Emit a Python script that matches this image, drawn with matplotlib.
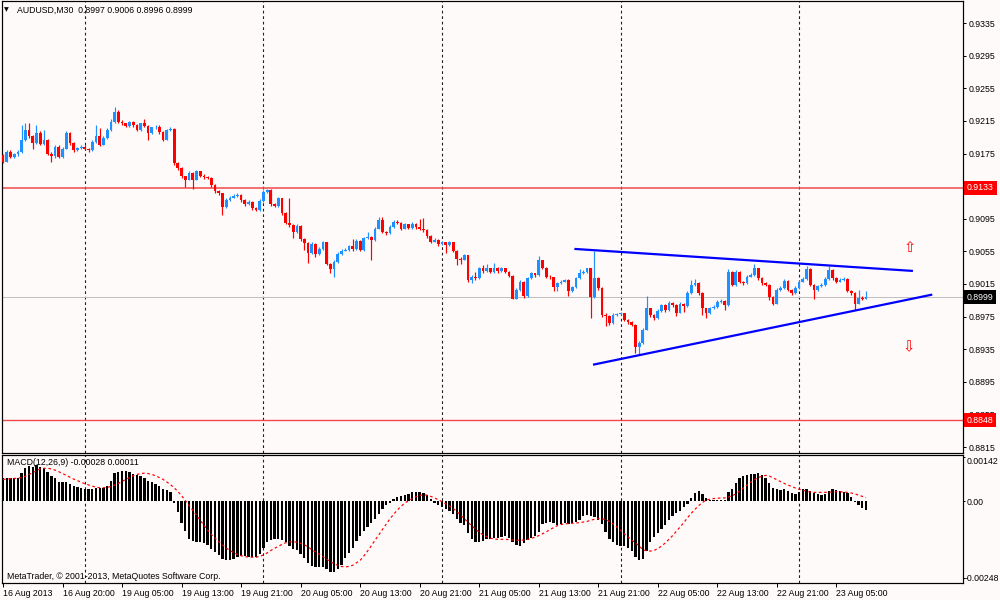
import matplotlib
matplotlib.use('Agg')
import matplotlib.pyplot as plt
import matplotlib.transforms as mtransforms
import numpy as np

PIP = 1e-4
# ---- price data, AUDUSD M30, bar 0 = 16 Aug 2013 12:00 (values in pips) ----
opens = [
9173, 9165, 9177, 9171, 9174, 9177, 9191, 9204, 9196, 9188,
9200, 9187, 9191, 9175, 9172, 9183, 9171, 9181, 9200, 9188,
9179, 9182, 9183, 9181, 9179, 9189, 9196, 9186, 9194, 9204,
9214, 9226, 9214, 9212, 9209, 9214, 9210, 9204, 9212, 9209,
9200, 9207, 9208, 9201, 9192, 9204, 9205, 9163, 9157, 9147,
9143, 9151, 9143, 9153, 9148, 9146, 9145, 9136, 9129, 9126,
9110, 9118, 9121, 9123, 9124, 9118, 9113, 9116, 9108, 9106,
9117, 9128, 9130, 9113, 9111, 9120, 9102, 9090, 9087, 9079,
9086, 9070, 9065, 9053, 9064, 9052, 9058, 9066, 9040, 9033,
9042, 9052, 9056, 9057, 9061, 9058, 9068, 9057, 9071, 9073,
9069, 9083, 9094, 9079, 9077, 9085, 9091, 9090, 9083, 9088,
9084, 9089, 9085, 9083, 9081, 9074, 9067, 9069, 9064, 9066,
9063, 9066, 9056, 9046, 9045, 9050, 9020, 9024, 9022, 9034,
9031, 9034, 9030, 9035, 9031, 9034, 9030, 9025, 8997, 9008,
9018, 9000, 9022, 9028, 9026, 9044, 9035, 9024, 9023, 9011,
9016, 9018, 9020, 9006, 9011, 9022, 9028, 9030, 9034, 8999,
9022, 9010, 8977, 8976, 8967, 8977, 8978, 8979, 8971, 8968,
8965, 8938, 8943, 8959, 8985, 8977, 8973, 8982, 8989, 8983,
8992, 8989, 8980, 8991, 8988, 9004, 9014, 9016, 9004, 8985,
8979, 8985, 8987, 8993, 8994, 8989, 9030, 9014, 9030, 9018,
9016, 9024, 9026, 9034, 9022, 9016, 9014, 8999, 8991, 9008,
9010, 9019, 9008, 9004, 9010, 9018, 9021, 9033, 9014, 9008,
9012, 9014, 9021, 9032, 9022, 9018, 9020, 9021, 9007, 9004,
8991, 8998, 8997]
closes = [
9165, 9177, 9171, 9174, 9177, 9191, 9204, 9196, 9188, 9200,
9187, 9191, 9175, 9172, 9183, 9171, 9181, 9200, 9188, 9179,
9182, 9183, 9181, 9179, 9189, 9196, 9186, 9194, 9204, 9214,
9226, 9214, 9212, 9209, 9214, 9210, 9204, 9212, 9209, 9200,
9207, 9208, 9201, 9192, 9204, 9205, 9163, 9157, 9147, 9143,
9151, 9143, 9153, 9148, 9146, 9145, 9136, 9129, 9126, 9110,
9118, 9121, 9123, 9124, 9118, 9113, 9116, 9108, 9106, 9117,
9128, 9130, 9113, 9111, 9120, 9102, 9090, 9087, 9079, 9086,
9070, 9065, 9053, 9064, 9052, 9058, 9066, 9040, 9033, 9042,
9052, 9056, 9057, 9061, 9058, 9068, 9057, 9071, 9073, 9069,
9083, 9094, 9079, 9077, 9085, 9091, 9090, 9083, 9088, 9084,
9089, 9085, 9083, 9081, 9074, 9067, 9069, 9064, 9066, 9063,
9066, 9056, 9046, 9045, 9050, 9020, 9024, 9022, 9034, 9031,
9034, 9030, 9035, 9031, 9034, 9030, 9025, 8997, 9008, 9018,
9000, 9022, 9028, 9026, 9044, 9035, 9024, 9023, 9011, 9016,
9018, 9020, 9006, 9011, 9022, 9028, 9030, 9034, 8999, 9022,
9010, 8977, 8976, 8967, 8977, 8978, 8979, 8971, 8968, 8965,
8938, 8943, 8959, 8985, 8977, 8973, 8982, 8989, 8983, 8992,
8989, 8980, 8991, 8988, 9004, 9014, 9016, 9004, 8985, 8979,
8985, 8987, 8993, 8994, 8989, 9030, 9014, 9030, 9018, 9016,
9024, 9026, 9034, 9022, 9016, 9014, 8999, 8991, 9008, 9010,
9019, 9008, 9004, 9010, 9018, 9021, 9033, 9014, 9008, 9012,
9014, 9021, 9032, 9022, 9018, 9020, 9021, 9007, 9004, 8991,
8998, 8997, 8999]
highs = [
9175, 9179, 9179, 9176, 9179, 9210, 9212, 9212, 9198, 9210,
9202, 9204, 9193, 9177, 9185, 9185, 9183, 9202, 9201, 9189,
9183, 9185, 9186, 9182, 9191, 9210, 9206, 9196, 9206, 9217,
9232, 9228, 9216, 9213, 9215, 9215, 9211, 9213, 9217, 9210,
9208, 9210, 9210, 9202, 9205, 9207, 9206, 9164, 9158, 9148,
9154, 9152, 9155, 9154, 9150, 9147, 9146, 9137, 9130, 9127,
9120, 9123, 9125, 9126, 9125, 9119, 9118, 9117, 9109, 9119,
9130, 9132, 9131, 9114, 9122, 9121, 9103, 9120, 9088, 9088,
9087, 9071, 9066, 9066, 9065, 9060, 9068, 9067, 9041, 9044,
9054, 9058, 9059, 9063, 9070, 9070, 9069, 9073, 9079, 9074,
9085, 9097, 9097, 9080, 9087, 9093, 9093, 9091, 9090, 9089,
9091, 9090, 9095, 9096, 9082, 9075, 9071, 9070, 9068, 9067,
9068, 9067, 9057, 9048, 9052, 9051, 9026, 9030, 9036, 9038,
9040, 9035, 9041, 9036, 9036, 9035, 9031, 9026, 9010, 9020,
9019, 9024, 9030, 9029, 9049, 9045, 9036, 9026, 9024, 9018,
9020, 9021, 9021, 9013, 9024, 9033, 9032, 9035, 9035, 9055,
9023, 9011, 8979, 8977, 8979, 8980, 8981, 8980, 8972, 8969,
8966, 8945, 8961, 9000, 8986, 8978, 8984, 8991, 8990, 8994,
8993, 8990, 8993, 8992, 9006, 9020, 9021, 9017, 9005, 8986,
8987, 8989, 8995, 8996, 8995, 9033, 9031, 9032, 9031, 9019,
9026, 9028, 9040, 9035, 9023, 9017, 9015, 9000, 9010, 9012,
9021, 9020, 9009, 9012, 9020, 9023, 9037, 9034, 9015, 9014,
9016, 9023, 9037, 9033, 9023, 9022, 9023, 9022, 9008, 9005,
9008, 9000, 9006]
lows = [
9163, 9164, 9169, 9170, 9172, 9176, 9190, 9194, 9181, 9187,
9185, 9186, 9173, 9165, 9170, 9169, 9170, 9180, 9186, 9177,
9178, 9181, 9179, 9177, 9178, 9188, 9184, 9185, 9193, 9203,
9213, 9212, 9210, 9207, 9208, 9208, 9202, 9203, 9207, 9191,
9199, 9205, 9199, 9190, 9191, 9203, 9161, 9155, 9145, 9134,
9142, 9132, 9142, 9146, 9144, 9144, 9134, 9127, 9124, 9100,
9108, 9117, 9120, 9122, 9116, 9111, 9112, 9106, 9104, 9105,
9116, 9127, 9111, 9109, 9110, 9100, 9088, 9085, 9071, 9078,
9068, 9057, 9041, 9052, 9048, 9051, 9057, 9038, 9028, 9024,
9041, 9051, 9055, 9056, 9056, 9057, 9055, 9056, 9070, 9045,
9068, 9082, 9077, 9075, 9076, 9084, 9088, 9081, 9082, 9082,
9083, 9083, 9081, 9079, 9072, 9065, 9066, 9062, 9063, 9053,
9062, 9054, 9038, 9040, 9044, 9018, 9016, 9020, 9021, 9029,
9030, 9028, 9029, 9029, 9030, 9028, 9023, 8996, 8996, 9007,
8998, 8999, 9021, 9024, 9025, 9033, 9022, 9021, 9006, 9006,
9015, 9017, 9000, 9005, 9010, 9021, 9027, 9029, 8973, 8998,
9008, 8975, 8963, 8965, 8966, 8976, 8977, 8969, 8966, 8963,
8930, 8928, 8942, 8958, 8975, 8971, 8972, 8981, 8981, 8982,
8987, 8976, 8979, 8981, 8987, 9003, 9013, 9002, 8977, 8973,
8978, 8984, 8986, 8992, 8983, 8988, 9012, 9013, 9016, 9014,
9015, 9023, 9025, 9020, 9014, 9012, 8995, 8989, 8990, 9007,
9009, 9006, 9002, 9003, 9009, 9017, 9020, 9012, 8997, 9007,
9011, 9013, 9020, 9020, 9016, 9017, 9019, 9005, 9002, 8983,
8990, 8995, 8996]

# ---- MACD(12,26,9), values in 1e-5 ----
macd_e5 = [
73, 76, 76, 76, 76, 90, 106, 113, 110, 116,
110, 106, 93, 80, 76, 63, 60, 60, 56, 50,
46, 43, 40, 38, 40, 43, 43, 43, 48, 66,
90, 93, 98, 96, 93, 88, 83, 80, 76, 66,
60, 56, 48, 40, 36, 30, -7, -37, -70, -97,
-124, -130, -132, -134, -137, -142, -154, -164, -174, -187,
-190, -190, -187, -180, -177, -177, -180, -180, -180, -172,
-152, -132, -127, -124, -122, -127, -134, -147, -154, -157,
-170, -184, -200, -210, -212, -214, -212, -220, -230, -230,
-220, -207, -184, -167, -152, -130, -112, -97, -84, -72,
-57, -42, -27, -14, -5, 8, 13, 16, 20, 23,
28, 30, 30, 26, 18, 6, -7, -14, -20, -27,
-32, -42, -57, -70, -77, -104, -124, -132, -132, -130,
-124, -124, -120, -120, -117, -112, -120, -132, -142, -147,
-137, -127, -120, -112, -100, -74, -70, -67, -72, -77,
-74, -72, -74, -70, -67, -62, -50, -44, -47, -52,
-62, -74, -100, -124, -134, -142, -144, -147, -152, -162,
-180, -190, -187, -162, -134, -117, -102, -90, -77, -62,
-50, -40, -32, -20, -10, 10, 26, 33, 23, 10,
3, 3, 3, 3, 3, 28, 40, 58, 76, 80,
83, 86, 88, 90, 83, 73, 58, 43, 38, 36,
38, 33, 26, 23, 28, 38, 38, 33, 26, 23,
18, 23, 33, 38, 36, 33, 30, 26, 13, -2,
-14, -22, -28]
signal_e5 = [
70, 71, 72, 73, 74, 76, 80, 86, 92, 98,
104, 106, 106, 104, 100, 95, 89, 83, 77, 71,
66, 61, 56, 52, 48, 45, 43, 43, 44, 47,
52, 57, 63, 70, 76, 82, 86, 89, 90, 89,
86, 82, 76, 70, 62, 53, 43, 31, 17, 2,
-14, -30, -46, -62, -78, -94, -108, -120, -132, -142,
-152, -160, -167, -173, -177, -180, -181, -182, -182, -179,
-175, -168, -160, -153, -147, -140, -135, -132, -132, -133,
-137, -142, -148, -158, -165, -172, -180, -188, -196, -203,
-208, -212, -213, -212, -208, -200, -192, -178, -162, -145,
-127, -110, -92, -75, -58, -43, -29, -17, -7, 1,
8, 14, 18, 20, 19, 15, 10, 4, -2, -9,
-16, -24, -34, -45, -57, -69, -80, -91, -101, -109,
-115, -120, -123, -124, -124, -124, -125, -126, -127, -127,
-126, -124, -121, -117, -112, -106, -100, -93, -86, -80,
-76, -74, -73, -72, -71, -70, -68, -66, -62, -59,
-57, -57, -60, -66, -74, -84, -95, -106, -116, -126,
-136, -145, -158, -161, -162, -160, -154, -146, -136, -124,
-112, -98, -84, -70, -54, -40, -27, -15, -5, 3,
6, 8, 9, 10, 10, 13, 17, 23, 32, 42,
52, 61, 69, 76, 80, 83, 81, 75, 69, 63,
57, 52, 47, 42, 38, 35, 32, 29, 28, 28,
28, 28, 29, 29, 30, 30, 29, 28, 26, 23,
19, 15, 11]

tick_bars = [0, 16, 32, 48, 64, 80, 96, 112, 128, 144, 160, 176, 192, 208, 224]
tick_labels = ['16 Aug 2013', '16 Aug 20:00', '19 Aug 05:00', '19 Aug 13:00',
               '19 Aug 21:00', '20 Aug 05:00', '20 Aug 13:00', '20 Aug 21:00',
               '21 Aug 05:00', '21 Aug 13:00', '21 Aug 21:00', '22 Aug 05:00',
               '22 Aug 13:00', '22 Aug 21:00', '23 Aug 05:00']
day_separators = [22, 70, 118, 166, 214]
price_ticks = [0.8815, 0.8855, 0.8895, 0.8935, 0.8975, 0.9015, 0.9055, 0.9095,
               0.9135, 0.9175, 0.9215, 0.9255, 0.9295, 0.9335]
resistance = 0.9133
support = 0.8848
bid = 0.8999
upper_trend_bars = [153.6, 244.6]
upper_trend_prices = [0.9058, 0.9031]
lower_trend_bars = [158.6, 249.8]
lower_trend_prices = [0.8916, 0.9002]
arrow_up = (243.8, 0.9060)
arrow_down = (243.4, 0.8938)
header = 'AUDUSD,M30  0.8997 0.9006 0.8996 0.8999'
macd_label = 'MACD(12,26,9) -0.00028 0.00011'
copyright_text = 'MetaTrader, \u00a9 2001-2013, MetaQuotes Software Corp.'
macd_ticks = [-0.00248, 0.0, 0.00142]
macd_tick_labels = ['-0.00248', '0.00', '0.00142']

# ---- styling ----
BG = '#FFFAFA'
BULL = '#1E90FF'
BEAR = '#FF0000'
FONT = ['Liberation Sans', 'DejaVu Sans']
FS = 6.3
PX = 0.72  # one pixel in points at dpi 100
plt.rcParams['font.family'] = FONT

fig = plt.figure(figsize=(10, 6), dpi=100, facecolor=BG)
ax = fig.add_axes([0.002, 0.2455, 0.961, 0.7528], facecolor=BG)
ax2 = fig.add_axes([0.002, 0.0288, 0.961, 0.2133], facecolor=BG)

o = np.array(opens) * PIP
c = np.array(closes) * PIP
h = np.array(highs) * PIP
l = np.array(lows) * PIP
x = np.arange(len(o))
up = c >= o
cols = np.where(up, BULL, BEAR)

# grid / level lines
for d in day_separators:
    for a in (ax, ax2):
        a.axvline(d, color='#202020', lw=PX * 1.1, linestyle=(0, (2.5, 2.5)), zorder=1)
ax.axhline(resistance, color='#F04848', lw=1.1, zorder=1)
ax.axhline(support, color='#F04848', lw=1.0, zorder=1)
ax.axhline(bid, color='#C0C0C0', lw=PX, zorder=1)

# candles
ax.vlines(x, l, h, colors=cols, lw=PX * 1.2, zorder=3)
body_lo = np.minimum(o, c)
body_h = np.maximum(np.abs(c - o), 0.4 * PIP)
ax.bar(x, body_h, bottom=body_lo, width=0.74, color=cols, linewidth=0, zorder=3)

# trend lines and arrows
ax.plot(upper_trend_bars, upper_trend_prices, color='#0000FF', lw=1.6, zorder=4,
        solid_capstyle='butt')
ax.plot(lower_trend_bars, lower_trend_prices, color='#0000FF', lw=1.6, zorder=4,
        solid_capstyle='butt')
ax.text(arrow_up[0], arrow_up[1], '\u21e7', color='red', fontsize=10.5, ha='center',
        va='center', family='DejaVu Sans', zorder=5)
ax.text(arrow_down[0], arrow_down[1], '\u21e9', color='red', fontsize=10.5, ha='center',
        va='center', family='DejaVu Sans', zorder=5)

XL = (-0.27, 258.06)
ax.set_xlim(*XL)
ax.set_ylim(0.88081, 0.93620)
ax.set_xticks([])
ax.yaxis.tick_right()
ax.set_yticks(price_ticks)
ax.set_yticklabels(['%.4f' % v for v in price_ticks])
ax.tick_params(axis='y', direction='out', length=2.2, width=PX, pad=1.5,
               labelsize=FS, colors='black')

for val, fc in ((resistance, '#FF0000'), (bid, '#000000'), (support, '#FF0000')):
    ax.annotate('%.4f' % val, xy=(1.0, val), xycoords=ax.get_yaxis_transform(),
                xytext=(4, 0), textcoords='offset pixels', ha='left', va='center',
                fontsize=FS, color='white', annotation_clip=False, zorder=10,
                bbox=dict(boxstyle='square,pad=0.3', fc=fc, ec='none'))

ax.annotate('\u25bc', xy=(0, 1), xycoords='axes fraction', xytext=(4, -9),
            textcoords='offset pixels', ha='center', va='center', fontsize=4.5,
            family='DejaVu Sans', color='black')
ax.annotate(header, xy=(0, 1), xycoords='axes fraction', xytext=(15, -9),
            textcoords='offset pixels', ha='left', va='center', fontsize=FS,
            color='black')

# MACD panel
ax2.bar(x, np.array(macd_e5) * 1e-5, width=0.62, color='black', linewidth=0, zorder=3)
ax2.plot(x, np.array(signal_e5) * 1e-5, color='red', lw=PX * 1.2,
         linestyle=(0, (2.2, 2.2)), zorder=4)
ax2.set_xlim(*XL)
ax2.set_ylim(-0.002644, 0.001498)
ax2.yaxis.tick_right()
ax2.set_yticks(macd_ticks)
ax2.set_yticklabels(macd_tick_labels)
ax2.tick_params(axis='y', direction='out', length=1.5, width=PX, pad=0.8,
                labelsize=FS, colors='black')
ax2.set_xticks(tick_bars)
ax2.set_xticklabels(tick_labels, ha='left')
ax2.tick_params(axis='x', direction='out', length=3, width=PX, pad=1.5,
                labelsize=FS, colors='black')
ylabels = ax2.get_yticklabels()
ylabels[0].set_transform(ylabels[0].get_transform() +
                         mtransforms.ScaledTranslation(-2 / 100, 0, fig.dpi_scale_trans))
ylabels[2].set_verticalalignment('top')
ax2.annotate(macd_label, xy=(0, 1), xycoords='axes fraction', xytext=(5, -8),
             textcoords='offset pixels', ha='left', va='center', fontsize=FS,
             color='black', zorder=6)
ax2.annotate(copyright_text, xy=(0, 0), xycoords='axes fraction', xytext=(5, 6),
             textcoords='offset pixels', ha='left', va='center', fontsize=FS,
             color='black', zorder=6)

for a in (ax, ax2):
    for s in a.spines.values():
        s.set_color('black')
        s.set_linewidth(PX * 1.2)

fig.savefig('out.png', dpi=100, facecolor=BG)
